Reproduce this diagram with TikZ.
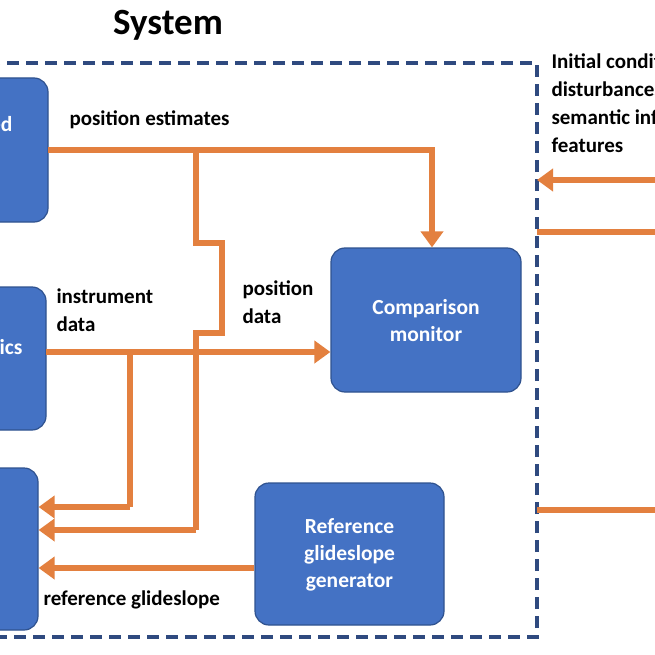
\documentclass[tikz,border=0pt]{standalone}
\usepackage{fontspec}
\setmainfont{Carlito}
\usetikzlibrary{arrows.meta}
\definecolor{bx}{HTML}{4472C4}
\definecolor{bxd}{HTML}{2F528F}
\definecolor{dashc}{HTML}{2F4A7F}
\definecolor{orn}{HTML}{E3803F}
\begin{document}
\begin{tikzpicture}[x=1pt,y=-1pt,
  box/.style={draw=bxd,line width=1.2pt,fill=bx,rounded corners=14pt},
  btxt/.style={text=white,font=\bfseries\fontsize{21.5}{27}\selectfont,align=center},
  lbl/.style={font=\bfseries\fontsize{21}{28}\selectfont,align=left},
  ol/.style={draw=orn,line width=6pt},
  oa/.style={ol,-{Triangle[length=16pt,width=22pt]}}]
\useasboundingbox (0,0) rectangle (655,655);
\clip (0,0) rectangle (655,655);
\fill[white] (0,0) rectangle (655,655);
\node[font=\bfseries\fontsize{37}{40}\selectfont] (title) at (168,25) {System};
\draw[draw=dashc,line width=3.5pt,dash pattern=on 12pt off 7pt] (-20,63) rectangle (537,637);
\node[box,minimum width=90pt,minimum height=144pt] (b1) at (3,150) {};
\node[box,minimum width=90pt,minimum height=143pt] (b2) at (1,358.5) {};
\node[box,minimum width=90pt,minimum height=162pt] (b3) at (-7,549) {};
\node[btxt,anchor=east] at (16,124) {ed};
\node[btxt,anchor=east] at (26,347) {ics};
\node[box,minimum width=190pt,minimum height=144pt] (cm) at (426,320) {};
\node[btxt] at (426,321) {Comparison\\monitor};
\node[box,minimum width=189pt,minimum height=142pt] (rg) at (349.5,554) {};
\node[btxt] at (349.5,555) {Reference\\glideslope\\generator};
\coordinate (p1) at (48,150);
\draw[oa] (p1) -- (432,150) -- (cm.north -| 432,0);
\draw[ol] (196,150) -- (196,243) -- (222,243) -- (222,333) -- (196,333) -- (196,530);
\draw[oa] (196,530) -- (b3.east |- 0,530);
\draw[oa] (46,352) -- (cm.west |- 0,352);
\draw[ol] (130,352) -- (130,507);
\draw[oa] (130,507) -- (b3.east |- 0,507);
\draw[oa] (rg.west |- 0,568) -- (b3.east |- 0,568);
\coordinate (r1) at (660,180);
\coordinate (r2) at (660,232);
\coordinate (r3) at (660,510);
\draw[oa] (r1) -- (537,180);
\draw[ol] (537,232) -- (r2);
\draw[ol] (537,510) -- (r3);
\node[lbl,anchor=west] (l1) at (66,120) {position estimates};
\node[lbl,anchor=north west] (l2) at (53,285) {instrument\\data};
\node[lbl,anchor=north west] (l3) at (239,277) {position\\data};
\node[lbl,anchor=west] (l4) at (40,600) {reference glideslope};
\node[lbl,anchor=north west] (l5) at (548,50) {Initial conditions\\disturbances\\semantic info\\features};
\end{tikzpicture}
\end{document}
